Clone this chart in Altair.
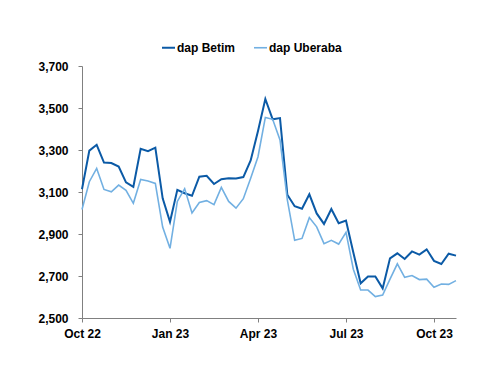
import altair as alt
import pandas as pd

betim = [3113, 3297, 3325, 3240, 3238, 3221, 3146, 3124, 3306, 3294, 3311, 3070,
         2958, 3110, 3094, 3082, 3173, 3177, 3138, 3161, 3165, 3164, 3171, 3250,
         3390, 3543, 3446, 3452, 3087, 3032, 3020, 3089, 2998, 2948, 3019, 2951,
         2964, 2812, 2665, 2698, 2698, 2641, 2784, 2808, 2781, 2817, 2802, 2827,
         2772, 2757, 2806, 2797]
uberaba = [3017, 3149, 3212, 3112, 3101, 3133, 3108, 3046, 3160, 3152, 3141, 2933,
           2832, 3055, 3116, 3000, 3050, 3059, 3040, 3122, 3055, 3023, 3068, 3165,
           3268, 3455, 3446, 3348, 3062, 2870, 2879, 2978, 2934, 2854, 2870, 2852,
           2908, 2732, 2633, 2633, 2602, 2609, 2685, 2758, 2694, 2702, 2683, 2685,
           2646, 2662, 2660, 2678]
series_names = ["dap Betim", "dap Uberaba"]
tick_positions = [0, 12, 24, 36, 48]
tick_labels = ["Oct 22", "Jan 23", "Apr 23", "Jul 23", "Oct 23"]
y_ticks = [2500, 2700, 2900, 3100, 3300, 3500, 3700]

rows = []
for i, v in enumerate(betim):
    rows.append({"idx": i, "value": v, "series": series_names[0]})
for i, v in enumerate(uberaba):
    rows.append({"idx": i, "value": v, "series": series_names[1]})
df = pd.DataFrame(rows)

label_map = "{" + ",".join(f"'{p}':'{l}'" for p, l in zip(tick_positions, tick_labels)) + "}"

font = "Liberation Sans"

chart = alt.Chart(df).mark_line(strokeJoin="miter").encode(
    x=alt.X("idx:Q",
            scale=alt.Scale(domain=[0, len(betim) - 1], nice=False, zero=False),
            axis=alt.Axis(values=tick_positions, labelExpr=f"{label_map}[datum.value]",
                          title=None, grid=False, domain=True, domainColor="#808080",
                          tickColor="#808080", tickSize=4, labelPadding=6,
                          labelFont=font, labelFontSize=12, labelFontWeight="bold",
                          labelColor="#000000", labelFlush=False)),
    y=alt.Y("value:Q",
            scale=alt.Scale(domain=[2500, 3700], nice=False, zero=False),
            axis=alt.Axis(values=y_ticks, format=",d", title=None, grid=False,
                          domain=True, domainColor="#808080", tickColor="#808080",
                          tickSize=4, labelPadding=10, labelFont=font,
                          labelFontSize=12, labelFontWeight="bold",
                          labelColor="#000000")),
    color=alt.Color("series:N",
                    scale=alt.Scale(domain=series_names, range=["#0b5aa6", "#72b0e2"]),
                    legend=alt.Legend(title=None, orient="none", direction="horizontal",
                                      legendX=79, legendY=-26, symbolType="stroke",
                                      symbolSize=169, symbolStrokeWidth=2.5,
                                      labelFont=font, labelFontSize=12,
                                      labelFontWeight="bold",
                                      labelColor="#000000", labelOffset=1,
                                      columnPadding=14)),
    strokeWidth=alt.StrokeWidth("series:N",
                                scale=alt.Scale(domain=series_names, range=[2, 1.6]),
                                legend=None),
).properties(
    width=374, height=252,
    autosize=alt.AutoSizeParams(type="none"),
    padding={"left": 74, "top": 58, "right": 30, "bottom": 40},
).configure_view(stroke=None)

chart.save("out.html", embed_options={"renderer": "svg", "actions": False})
